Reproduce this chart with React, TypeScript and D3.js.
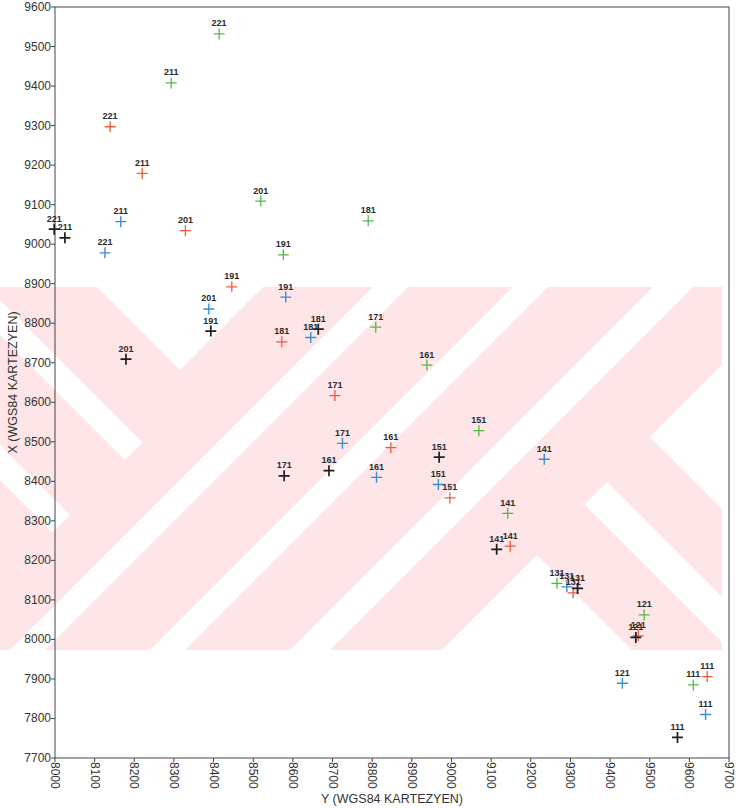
import React from 'react';
import * as d3 from 'd3';

// Point labels (same order for every series)
const pointLabels = ['111', '121', '131', '141', '151', '161', '171', '181', '191', '201', '211', '221'];

// Y (WGS84 KARTEZYEN) = horizontal, X (WGS84 KARTEZYEN) = vertical
const greenY = [9610, 9486, 9266, 9142, 9069, 8938, 8809, 8790, 8576, 8519, 8293, 8414];
const greenX = [7885, 8062, 8142, 8319, 8528, 8694, 8790, 9059, 8973, 9109, 9408, 9532];

const redY = [9645, 9471, 9307, 9148, 8996, 8847, 8706, 8572, 8446, 8329, 8220, 8139];
const redX = [7906, 8009, 8118, 8236, 8358, 8485, 8617, 8753, 8892, 9034, 9179, 9297];

const blueY = [9641, 9431, 9291, 9234, 8967, 8811, 8725, 8645, 8582, 8388, 8166, 8126];
const blueX = [7810, 7889, 8133, 8456, 8392, 8410, 8496, 8764, 8866, 8836, 9057, 8978];

const blackY = [9570, 9465, 9318, 9114, 8969, 8691, 8578, 8664, 8393, 8179, 8025, 7998];
const blackX = [7752, 8005, 8129, 8228, 8461, 8427, 8414, 8785, 8780, 8709, 9016, 9038];

const xTickValues = d3.range(8000, 9701, 100);
const yTickValues = d3.range(7700, 9601, 100);

const xTitle = 'Y (WGS84 KARTEZYEN)';
const yTitle = 'X (WGS84 KARTEZYEN)';

const FONT = '"Liberation Sans", Arial, Helvetica, sans-serif';

// Background scan watermark (decoration only, pixel space)
const WM_BAND = { x: 0, y: 287, w: 722, h: 363 };
const WM_WHITE: [number, number][][] = [
  [[97, 287], [263, 287], [180, 370]],
  [[0, 300], [142.5, 442.5], [125, 460], [0, 335]],
  [[0, 445], [70, 515], [52.5, 532.5], [0, 480]],
  [[373, 287], [408, 287], [45, 650], [10, 650]],
  [[513, 287], [548, 287], [185, 650], [150, 650]],
  [[653, 287], [693, 287], [330, 650], [290, 650]],
  [[537, 555], [632, 650], [442, 650]],
  [[607, 482], [775, 650], [730, 650], [584.5, 504.5]],
  [[650, 437], [722, 365], [722, 509]],
];

export default function App() {
  const W = 736;
  const H = 808;
  const left = 55, right = 729, top = 7, bottom = 758;

  const x = d3.scaleLinear().domain([8000, 9700]).range([left, right]);
  const y = d3.scaleLinear().domain([7700, 9600]).range([bottom, top]);

  const series = [
    { name: 'green', Y: greenY, X: greenX, color: '#55b84a', sw: 1.3 },
    { name: 'blue', Y: blueY, X: blueX, color: '#3b8fcf', sw: 1.4 },
    { name: 'red', Y: redY, X: redX, color: '#ee5a3e', sw: 1.3 },
    { name: 'black', Y: blackY, X: blackX, color: '#1e1e1e', sw: 1.7 },
  ];

  const arm = 5.5;
  const line = d3.line();

  return (
    <svg width={W} height={H} style={{ position: 'absolute', left: 0, top: 0, background: '#fff' }}>
      <defs>
        <clipPath id="wm">
          <rect x={WM_BAND.x} y={WM_BAND.y} width={WM_BAND.w} height={WM_BAND.h} />
        </clipPath>
      </defs>
      <rect x={0} y={0} width={W} height={H} fill="#ffffff" />
      <g clipPath="url(#wm)">
        <rect x={WM_BAND.x} y={WM_BAND.y} width={WM_BAND.w} height={WM_BAND.h} fill="#fde5e8" />
        {WM_WHITE.map((p, i) => (
          <path key={i} d={(line(p) || '') + 'Z'} fill="#ffffff" />
        ))}
      </g>

      {/* frame */}
      <rect x={left} y={top} width={right - left} height={bottom - top} fill="none" stroke="#444" strokeWidth={1} />

      {/* y axis */}
      <g fontFamily={FONT} fontSize={12} fill="#333">
        {yTickValues.map((v) => (
          <g key={v}>
            <line x1={left - 4} x2={left} y1={y(v)} y2={y(v)} stroke="#444" />
            <text x={left - 4} y={y(v)} textAnchor="end" dominantBaseline="central">{v}</text>
          </g>
        ))}
      </g>

      {/* x axis */}
      <g fontFamily={FONT} fontSize={12} fill="#333">
        {xTickValues.map((v) => (
          <g key={v}>
            <line x1={x(v)} x2={x(v)} y1={bottom} y2={bottom + 4} stroke="#444" />
            <text transform={`translate(${x(v)},${bottom + 4}) rotate(90)`} textAnchor="start" dominantBaseline="central">{v}</text>
          </g>
        ))}
      </g>

      <text x={(left + right) / 2} y={803} textAnchor="middle" fontFamily={FONT} fontSize={12.5} fill="#333">{xTitle}</text>
      <text transform={`translate(17,${(top + bottom) / 2}) rotate(-90)`} textAnchor="middle" fontFamily={FONT} fontSize={12.5} fill="#333">{yTitle}</text>

      {/* points */}
      {series.map((s) => (
        <g key={s.name}>
          {s.Y.map((yv, i) => {
            const cx = x(yv);
            const cy = y(s.X[i]);
            return (
              <g key={i}>
                <path d={`M${cx - arm},${cy}H${cx + arm}M${cx},${cy - arm}V${cy + arm}`} stroke={s.color} strokeWidth={s.sw} fill="none" />
                <text x={cx} y={cy - 7.5} textAnchor="middle" fontFamily={FONT} fontSize={9} fontWeight="bold" fill="#2a2a2a">{pointLabels[i]}</text>
              </g>
            );
          })}
        </g>
      ))}
    </svg>
  );
}
